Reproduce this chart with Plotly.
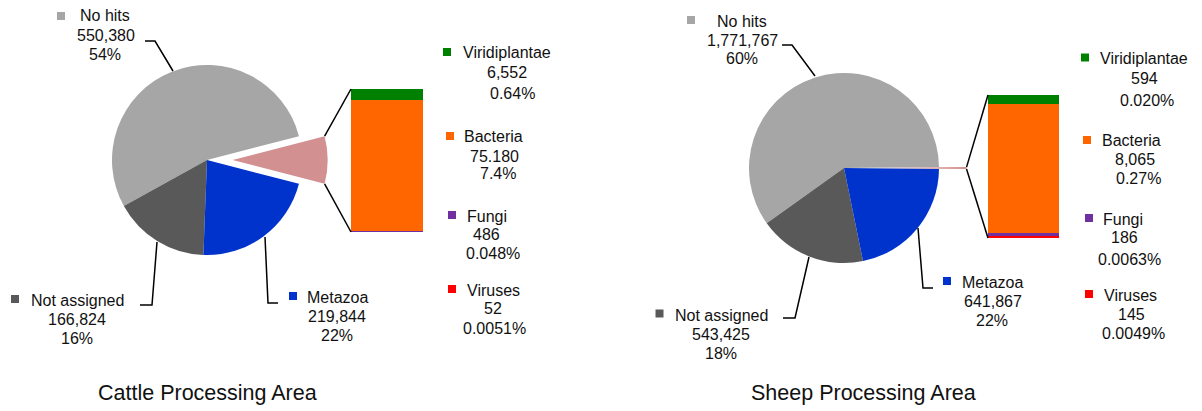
import math
import plotly.graph_objects as go

W, H = 1202, 411

# ---------------- data ----------------
main_labels = ["No hits", "Not assigned", "Metazoa"]
other_labels = ["Viridiplantae", "Bacteria", "Fungi", "Viruses"]

cattle_main = [550380, 166824, 219844]
cattle_main_text = ["550,380", "166,824", "219,844"]
cattle_main_pct = ["54%", "16%", "22%"]
cattle_other = [6552, 75180, 486, 52]
cattle_other_text = ["6,552", "75.180", "486", "52"]
cattle_other_pct = ["0.64%", "7.4%", "0.048%", "0.0051%"]

sheep_main = [1771767, 543425, 641867]
sheep_main_text = ["1,771,767", "543,425", "641,867"]
sheep_main_pct = ["60%", "18%", "22%"]
sheep_other = [594, 8065, 186, 145]
sheep_other_text = ["594", "8,065", "186", "145"]
sheep_other_pct = ["0.020%", "0.27%", "0.0063%", "0.0049%"]

titles = ["Cattle Processing Area", "Sheep Processing Area"]

# ---------------- styles ----------------
main_colors = ["#A6A6A6", "#595959", "#0033CC"]
other_slice_color = "#D39090"
other_colors = ["#008000", "#FF6600", "#7030A0", "#FF0000"]
FONT = "Liberation Sans, Arial, sans-serif"
TXT = "#111111"


def px(x):
    return x / W


def py(y):
    return 1 - y / H


panels = [
    dict(
        main=cattle_main, main_text=cattle_main_text, main_pct=cattle_main_pct,
        other=cattle_other, other_text=cattle_other_text, other_pct=cattle_other_pct,
        title=titles[0], title_pos=(207, 393),
        cx=207, cy=160, r=95, pull=0.27,
        bar=(351, 89, 423, 232),
        main_lab=[  # square center, text x per line, first line y
            ((61, 16), [105, 105.5, 105], 16),
            ((15, 299), [77, 77, 77], 300),
            ((293, 296), [338, 337.5, 337.5], 297),
        ],
        leaders=[
            [(173, 71), (155, 41), (145, 41)],
            [(157, 242), (152, 305), (140, 305)],
            [(265, 237), (268, 303), (278, 303)],
        ],
        other_lab=[
            ((447, 52), [506.5, 507, 512], [53, 72, 94]),
            ((450, 136), [493, 494, 498], [137, 156, 173]),
            ((452, 215), [487, 487, 492.5], [216, 234, 253]),
            ((452, 289), [493, 493, 494], [290, 308, 328]),
        ],
    ),
    dict(
        main=sheep_main, main_text=sheep_main_text, main_pct=sheep_main_pct,
        other=sheep_other, other_text=sheep_other_text, other_pct=sheep_other_pct,
        title=titles[1], title_pos=(863, 393),
        cx=844, cy=168, r=95, pull=0.29,
        bar=(988, 95, 1059, 238),
        main_lab=[
            ((691, 20), [742, 742.5, 742], 21),
            ((659.5, 313.5), [721, 721, 721], 315),
            ((947, 281), [992, 992.5, 992], 282),
        ],
        leaders=[
            [(815, 76), (792, 45), (782, 45)],
            [(809, 257), (795, 318), (783, 318)],
            [(918, 228), (923, 288), (933, 288)],
        ],
        other_lab=[
            ((1085, 57.5), [1144, 1144, 1147], [58, 78, 100]),
            ((1087, 140), [1131, 1135, 1138], [140, 159, 178]),
            ((1089, 218), [1123, 1124.5, 1129.5], [219, 238, 259]),
            ((1089, 294), [1130, 1131, 1133], [295, 314, 333]),
        ],
    ),
]

fig = go.Figure()
shapes = []
annotations = []


def add_text(text, x, y, size=16):
    annotations.append(dict(
        x=px(x), y=py(y), xref="paper", yref="paper", text=text,
        showarrow=False, xanchor="center", yanchor="middle",
        font=dict(family=FONT, size=size, color=TXT),
    ))


def add_square(c, color, s=8):
    shapes.append(dict(
        type="rect", xref="paper", yref="paper",
        x0=px(c[0] - s / 2), x1=px(c[0] + s / 2),
        y0=py(c[1] + s / 2), y1=py(c[1] - s / 2),
        fillcolor=color, line=dict(width=0),
    ))


def add_path(points, width=1.5):
    d = "M " + " L ".join(f"{px(x)},{py(y)}" for x, y in points)
    shapes.append(dict(type="path", xref="paper", yref="paper", path=d,
                       line=dict(color="black", width=width)))


for k, p in enumerate(panels):
    other_sum = sum(p["other"])
    total = sum(p["main"]) + other_sum
    other_frac = other_sum / total
    # pie: "other" slice first, centred at 3 o'clock, then counter-clockwise
    rot = 90 - 180 * other_frac
    half = p["r"] * (1 + p["pull"])
    fig.add_trace(go.Pie(
        labels=["Other"] + main_labels,
        values=[other_sum] + p["main"],
        sort=False, direction="counterclockwise", rotation=rot,
        pull=[p["pull"], 0, 0, 0],
        marker=dict(colors=[other_slice_color] + main_colors, line=dict(width=0)),
        textinfo="none", hoverinfo="label+value+percent",
        domain=dict(x=[px(p["cx"] - half), px(p["cx"] + half)],
                    y=[py(p["cy"] + half), py(p["cy"] - half)]),
        showlegend=False,
    ))

    # stacked bar of the "other" breakdown
    xa = "x" if k == 0 else "x2"
    ya = "y" if k == 0 else "y2"
    for lab, val, col in reversed(list(zip(other_labels, p["other"], other_colors))):
        fig.add_trace(go.Bar(
            x=[0], y=[val], width=[1], name=lab, marker=dict(color=col, line=dict(width=0)),
            xaxis=xa, yaxis=ya, showlegend=False,
        ))
    bx0, by0, bx1, by1 = p["bar"]
    axkey = "" if k == 0 else "2"
    fig.update_layout(**{
        f"xaxis{axkey}": dict(domain=[px(bx0), px(bx1)], range=[-0.5, 0.5], visible=False,
                              fixedrange=True, anchor=ya),
        f"yaxis{axkey}": dict(domain=[py(by1), py(by0)], range=[0, other_sum], visible=False,
                              fixedrange=True, anchor=xa),
    })

    # connector lines from the pulled slice corners to the bar corners
    r = p["r"]
    shift = p["pull"] * r
    a0 = math.radians(rot)
    a1 = math.radians(rot + 360 * other_frac)
    up = (p["cx"] + shift + r * math.sin(a0), p["cy"] - r * math.cos(a0))
    lo = (p["cx"] + shift + r * math.sin(a1), p["cy"] - r * math.cos(a1))
    add_path([up, (bx0, by0)])
    add_path([lo, (bx0, by1)])

    # main labels
    for i in range(3):
        sq, xs, y0 = p["main_lab"][i]
        add_square(sq, main_colors[i])
        lines = [main_labels[i], p["main_text"][i], p["main_pct"][i]]
        for j, t in enumerate(lines):
            add_text(t, xs[j], y0 + 19 * j)
        add_path(p["leaders"][i])

    # other labels
    for i in range(4):
        sq, xs, ys = p["other_lab"][i]
        add_square(sq, other_colors[i])
        lines = [other_labels[i], p["other_text"][i], p["other_pct"][i]]
        for j, t in enumerate(lines):
            add_text(t, xs[j], ys[j])

    add_text(p["title"], p["title_pos"][0], p["title_pos"][1], size=21.5)

fig.update_layout(
    width=W, height=H, margin=dict(l=0, r=0, t=0, b=0),
    paper_bgcolor="white", plot_bgcolor="white",
    barmode="stack", showlegend=False,
    shapes=shapes, annotations=annotations,
)

fig.write_html("out.html", config={"displayModeBar": False},
               post_script="document.body.style.margin='0';")
